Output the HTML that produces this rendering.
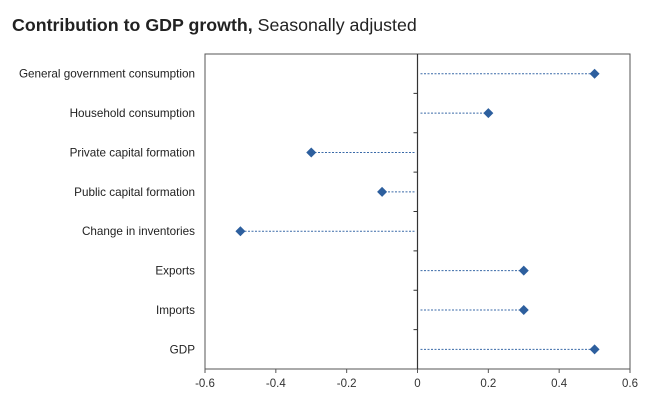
<!DOCTYPE html>
<html><head><meta charset="utf-8"><style>
body{margin:0;background:#fff;width:660px;height:409px;overflow:hidden;font-family:"Liberation Sans",Arial,sans-serif}
</style></head><body>
<svg width="660" height="409">
<text x="12" y="31" font-size="17.8" fill="#222"><tspan font-weight="bold">Contribution to GDP growth,</tspan> Seasonally adjusted</text>
<rect x="205" y="54" width="425" height="315" fill="none" stroke="#555" stroke-width="1"/>
<g id="g"></g>
</svg>
<script>
const categories=["General government consumption","Household consumption","Private capital formation","Public capital formation","Change in inventories","Exports","Imports","GDP"];
const values=[0.5,0.2,-0.3,-0.1,-0.5,0.3,0.3,0.5];
const ticks=[-0.6,-0.4,-0.2,0,0.2,0.4,0.6];
const tickLabels=["-0.6","-0.4","-0.2","0","0.2","0.4","0.6"];
const L=205,R=630,T=54,B=369;
const x=v=>L+(v+0.6)/1.2*(R-L);
const band=(B-T)/categories.length;
const y=i=>T+band*(i+0.5);
const g=document.getElementById('g');const NS='http://www.w3.org/2000/svg';
function mk(t,a){const e=document.createElementNS(NS,t);for(const k in a)e.setAttribute(k,a[k]);g.appendChild(e);return e;}
let e=mk('line',{x1:x(0),x2:x(0),y1:T,y2:B,stroke:'#333','stroke-width':1.2});


for(let i=1;i<categories.length;i++){e=mk('line',{x1:x(0)-4,x2:x(0),y1:T+band*i,y2:T+band*i,stroke:'#333'});

}
ticks.forEach((t,i)=>{e=mk('line',{x1:x(t),x2:x(t),y1:B,y2:B+4,stroke:'#555'});


e=mk('text',{x:x(t),y:B+18,'font-size':11.5,fill:'#333','text-anchor':'middle'});e.textContent=tickLabels[i];

});
categories.forEach((c,i)=>{const yy=y(i),v=values[i];
e=mk('text',{x:195,y:yy+4,'font-size':11.7,fill:'#222','text-anchor':'end'});e.textContent=c;


const x0=v>=0?x(0)+3:x(0)-3;
e=mk('line',{x1:x0,x2:x(v),y1:yy,y2:yy,stroke:'#3a6aa8','stroke-width':1,'stroke-dasharray':'2,1.5'});


const cx=x(v),s=5;
e=mk('polygon',{points:`${cx},${yy-s} ${cx+s},${yy} ${cx},${yy+s} ${cx-s},${yy}`,fill:'#2d5f9e'});

});
</script>
</body></html>
